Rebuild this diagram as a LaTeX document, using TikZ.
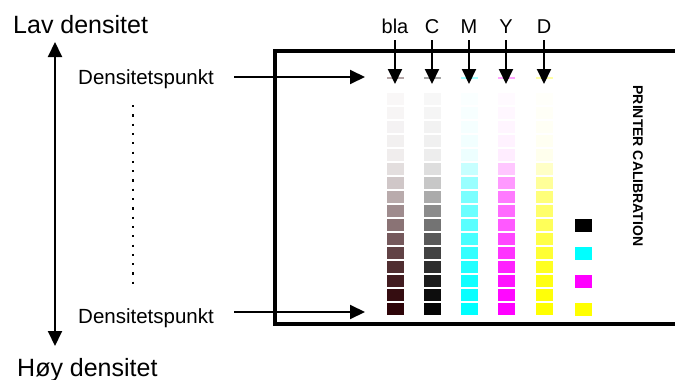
\documentclass[tikz,border=0pt]{standalone}
\usepackage{fontspec}
\setmainfont{Liberation Sans}
\usepackage{xcolor}
\usepackage{tikz}
\usetikzlibrary{arrows.meta,positioning}

\definecolor{blaink}{RGB}{42,0,4}
\definecolor{inkC}{RGB}{0,255,255}
\definecolor{inkM}{RGB}{255,0,255}
\definecolor{inkY}{RGB}{255,255,0}

\begin{document}
\begin{tikzpicture}[
    x=1pt, y=-1pt,
    biglabel/.style={font=\fontsize{25}{30}\selectfont, inner sep=0pt, anchor=base west},
    pointlabel/.style={font=\fontsize{20.5}{24}\selectfont, inner sep=0pt, anchor=base west},
    collabel/.style={font=\fontsize{20}{24}\selectfont, inner sep=0pt, anchor=base},
    tiparrow/.style={-{Triangle[length=15pt,width=14pt]}, line width=2pt},
    dotline/.style={line width=2.2pt, dash pattern=on 2.2pt off 7.1pt},
    frame/.style={line width=4pt, line join=miter}
]
    \useasboundingbox (0,0) rectangle (675,380);

    % density axis
    \node[biglabel] (low) at (13,33) {Lav densitet};
    \node[biglabel] (high) at (17,376) {Høy densitet};
    \coordinate (axtop) at (55,42);
    \coordinate (axbot) at (55,346);
    \draw[tiparrow, {Triangle[length=15pt,width=14pt]}-{Triangle[length=15pt,width=14pt]}] (axtop) -- (axbot);

    % density points
    \node[pointlabel] (dtop) at (78,84) {Densitetspunkt};
    \node[pointlabel] (dbot) at (78,323) {Densitetspunkt};
    \coordinate (dottop) at (133,105);
    \coordinate (dotbot) at (133,285);
    \draw[dotline] (dottop) -- (dotbot);

    % calibration sheet
    \draw[frame] (675,50.5) -| (275,324) -- (675,324);
    \node[font=\fontsize{14}{16}\selectfont\bfseries, rotate=-90] (cal) at (638,166) {PRINTER CALIBRATION};

    \coordinate (tiptop) at (365,77);
    \coordinate (tipbot) at (365,312);
    \draw[tiparrow] ([xshift=20pt]dtop.east |- tiptop) -- (tiptop);
    \draw[tiparrow] ([xshift=20pt]dbot.east |- tipbot) -- (tipbot);

    % columns of patches
    \foreach \x/\name/\col in {395/bla/blaink, 432/C/black} {
        \fill[\col!35!white] (\x-8.5,77) rectangle ++(17,2);
        \foreach \p [count=\r] in {3,4,5,6,7,13,22,33,45,55,65,74,82,89,95,98}
            \fill[\col!\p!white] (\x-8.5,{79+14*\r}) rectangle ++(17,12);
    }
    \foreach \x/\name/\col in {469/M/inkC, 506/Y/inkM, 544/D/inkY} {
        \fill[\col!35!white] (\x-8.5,77) rectangle ++(17,2);
        \foreach \p [count=\r] in {2,3,4,5,7,22,40,52,58,65,72,80,87,93,97,100}
            \fill[\col!\p!white] (\x-8.5,{79+14*\r}) rectangle ++(17,12);
    }

    % column labels and arrows
    \foreach \x/\name in {395/bla, 432/C, 469/M, 506/Y, 544/D} {
        \node[collabel] (lbl\name) at (\x,33) {\name};
        \coordinate (tip\name) at (\x,84);
        \draw[tiparrow] ([yshift=-7pt]lbl\name.south) -- (tip\name);
    }

    % reference patches
    \foreach \col [count=\r] in {black, inkC, inkM, inkY}
        \fill[\col] (575,{191+28*\r}) rectangle ++(17,13);
\end{tikzpicture}
\end{document}
